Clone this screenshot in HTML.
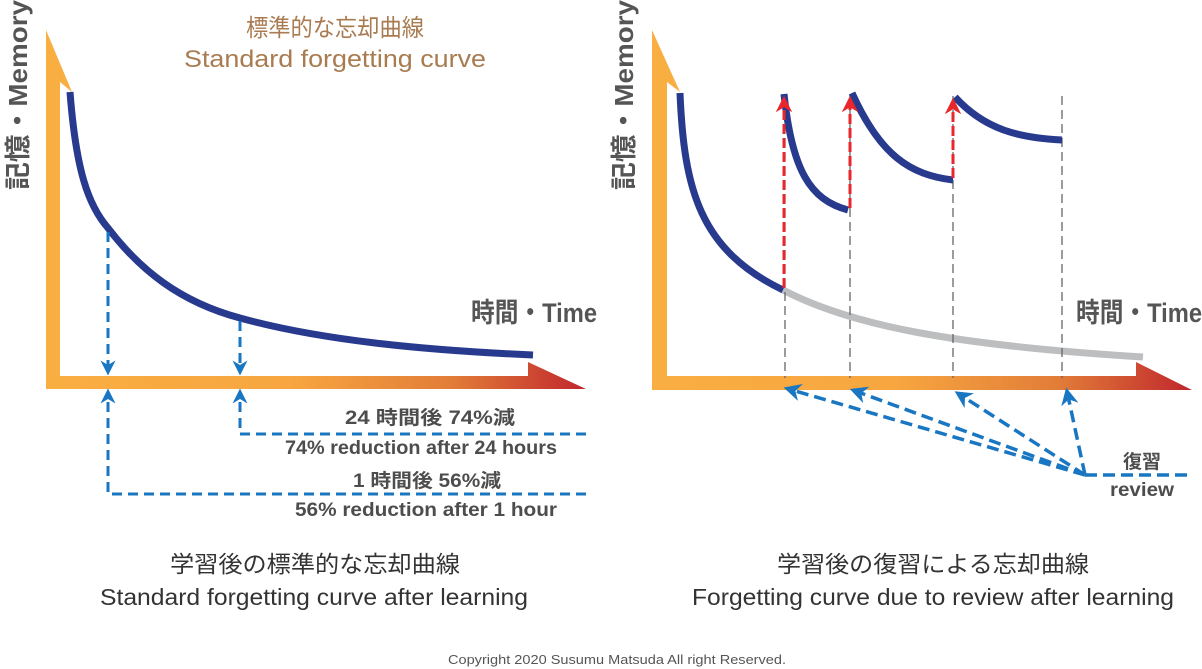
<!DOCTYPE html>
<html><head><meta charset="utf-8"><style>
html,body{margin:0;padding:0;background:#fff;width:1202px;height:669px;overflow:hidden}
svg{display:block}
text{font-family:"Liberation Sans","Noto Sans CJK JP",sans-serif}
</style></head><body>
<svg width="1202" height="669" viewBox="0 0 1202 669" xmlns="http://www.w3.org/2000/svg">
<defs>
<linearGradient id="g" x1="0" x2="1" y1="0" y2="0">
<stop offset="0" stop-color="#f9ae42"/><stop offset="0.45" stop-color="#f7a640"/><stop offset="0.75" stop-color="#e27d38"/><stop offset="1" stop-color="#c0272d"/></linearGradient>
<marker id="ab" viewBox="0 0 10 10" refX="5" refY="5" markerWidth="5" markerHeight="5" orient="auto"><path d="M0,0 L10,5 L0,10 L3,5 z" fill="#1976c2"/></marker>
<marker id="ar" viewBox="0 0 10 10" refX="5" refY="5" markerWidth="5.5" markerHeight="5.5" orient="auto"><path d="M0,0 L10,5 L0,10 L3,5 z" fill="#e8262b"/></marker>
</defs>
<!-- LEFT -->
<path d="M46,389 L46,376 L528,376 L528,362 L586,389 Z" fill="url(#g)"/>
<path d="M46,389 L46,30 L72,92 L60,82 L60,389 Z" fill="#f9ae42"/>
<path d="M70,92 C76,170 88,205 108,228 C140,270 180,302 240,318 C320,340 420,350 533,355" fill="none" stroke="#283a8e" stroke-width="7"/>
<g stroke="#1976c2" stroke-width="3" stroke-dasharray="10,6" fill="none">
<path d="M108,232 L108,368" marker-end="url(#ab)"/>
<path d="M240,321 L240,368" marker-end="url(#ab)"/>
<path d="M586,494 L108,494 L108,396" marker-end="url(#ab)"/>
<path d="M586,434 L240,434 L240,396" marker-end="url(#ab)"/>
</g>
<g fill="#4d4d4d" font-weight="bold" font-size="19" text-anchor="middle">
<text x="430" y="424" textLength="170" lengthAdjust="spacingAndGlyphs">24 時間後 74%減</text>
<text x="421" y="454" textLength="272" lengthAdjust="spacingAndGlyphs">74% reduction after 24 hours</text>
<text x="427" y="487" textLength="148" lengthAdjust="spacingAndGlyphs">1 時間後 56%減</text>
<text x="426" y="516" textLength="262" lengthAdjust="spacingAndGlyphs">56% reduction after 1 hour</text>
</g>
<g fill="#a97b50" font-size="24" text-anchor="middle">
<text x="335" y="36" textLength="178" lengthAdjust="spacingAndGlyphs">標準的な忘却曲線</text>
<text x="335" y="67" textLength="302" lengthAdjust="spacingAndGlyphs">Standard forgetting curve</text>
</g>
<text transform="translate(27,190) rotate(-90)" font-size="26" font-weight="bold" fill="#555" textLength="190" lengthAdjust="spacingAndGlyphs">記憶・Memory</text>
<text x="471" y="322" font-size="27" font-weight="bold" fill="#555" textLength="126" lengthAdjust="spacingAndGlyphs">時間・Time</text>
<g fill="#333" font-size="23" text-anchor="middle">
<text x="315" y="572" textLength="290" lengthAdjust="spacingAndGlyphs">学習後の標準的な忘却曲線</text>
<text x="314" y="605" textLength="428" lengthAdjust="spacingAndGlyphs">Standard forgetting curve after learning</text>
</g>
<!-- RIGHT -->
<path d="M652,390 L652,376 L1136,376 L1136,362 L1192,390 Z" fill="url(#g)"/>
<path d="M652,390 L652,30 L680,92 L667,82 L667,390 Z" fill="#f9ae42"/>
<path d="M783,290 C850,325 950,345 1143,357" fill="none" stroke="#bdbec0" stroke-width="7"/>
<g stroke="#666" stroke-width="1.3" stroke-dasharray="9,5">
<path d="M785,96 V378"/><path d="M850,96 V378"/><path d="M953,96 V378"/><path d="M1062,96 V378"/>
</g>
<g fill="none" stroke="#283a8e" stroke-width="7">
<path d="M680,93 C684,190 700,250 783,290"/>
<path d="M784,94 C792,170 810,200 848,210"/>
<path d="M852,93 C880,155 910,175 953,180"/>
<path d="M955,97 C985,130 1020,138 1062,140"/>
</g>
<g stroke="#e8262b" stroke-width="3" stroke-dasharray="10,4" fill="none">
<path d="M784,288 V104" marker-end="url(#ar)"/>
<path d="M850,208 V104" marker-end="url(#ar)"/>
<path d="M953,178 V106" marker-end="url(#ar)"/>
</g>
<g stroke="#1976c2" stroke-width="3.5" stroke-dasharray="12,6" fill="none">
<path d="M1085,475 L792,390" marker-end="url(#ab)"/>
<path d="M1085,475 L858,392" marker-end="url(#ab)"/>
<path d="M1085,475 L962,396" marker-end="url(#ab)"/>
<path d="M1085,475 L1068,396" marker-end="url(#ab)"/>
<path d="M1085,475 H1192"/>
</g>
<g fill="#4d4d4d" font-weight="bold" font-size="19" text-anchor="middle">
<text x="1142" y="468">復習</text>
<text x="1142" y="496" textLength="64" lengthAdjust="spacingAndGlyphs">review</text>
</g>
<text transform="translate(633,190) rotate(-90)" font-size="26" font-weight="bold" fill="#555" textLength="190" lengthAdjust="spacingAndGlyphs">記憶・Memory</text>
<text x="1076" y="322" font-size="27" font-weight="bold" fill="#555" textLength="126" lengthAdjust="spacingAndGlyphs">時間・Time</text>
<g fill="#333" font-size="23" text-anchor="middle">
<text x="933" y="572" textLength="312" lengthAdjust="spacingAndGlyphs">学習後の復習による忘却曲線</text>
<text x="933" y="605" textLength="482" lengthAdjust="spacingAndGlyphs">Forgetting curve due to review after learning</text>
</g>
<text x="617" y="664" text-anchor="middle" font-size="13" fill="#555" textLength="338" lengthAdjust="spacingAndGlyphs">Copyright 2020 Susumu Matsuda All right Reserved.</text>
</svg>
</body></html>
